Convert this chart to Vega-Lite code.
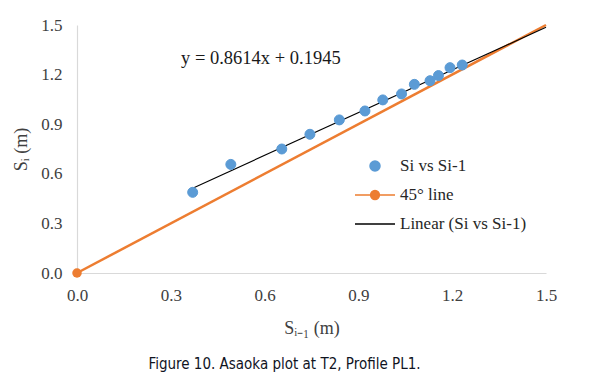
{
  "$schema": "https://vega.github.io/schema/vega-lite/v6.json",
  "width": 469,
  "height": 248,
  "autosize": {"type": "none"},
  "padding": {"left": 77, "top": 25, "right": 43, "bottom": 116},
  "background": "white",
  "config": {
    "view": {"stroke": null},
    "font": "Liberation Serif",
    "axis": {
      "grid": false,
      "ticks": false,
      "domainColor": "#D9D9D9",
      "domainWidth": 1.2,
      "labelFont": "Liberation Serif",
      "labelFontSize": 17,
      "labelColor": "#404040",
      "titleFont": "Liberation Serif",
      "titleFontSize": 18,
      "titleFontWeight": "normal",
      "titleColor": "#404040"
    },
    "legend": {
      "orient": "none",
      "legendX": 277,
      "legendY": 120,
      "labelFont": "Liberation Serif",
      "labelFontSize": 17,
      "labelColor": "#262626",
      "labelOffset": 4,
      "symbolSize": 1600,
      "symbolStrokeWidth": 1.5,
      "rowPadding": -8,
      "padding": 0
    }
  },
  "datasets": {
    "pts": [
      {"x": 0.370, "y": 0.488, "series": "Si vs Si-1"},
      {"x": 0.492, "y": 0.657, "series": "Si vs Si-1"},
      {"x": 0.655, "y": 0.750, "series": "Si vs Si-1"},
      {"x": 0.745, "y": 0.839, "series": "Si vs Si-1"},
      {"x": 0.839, "y": 0.926, "series": "Si vs Si-1"},
      {"x": 0.921, "y": 0.980, "series": "Si vs Si-1"},
      {"x": 0.978, "y": 1.047, "series": "Si vs Si-1"},
      {"x": 1.038, "y": 1.083, "series": "Si vs Si-1"},
      {"x": 1.079, "y": 1.141, "series": "Si vs Si-1"},
      {"x": 1.129, "y": 1.163, "series": "Si vs Si-1"},
      {"x": 1.156, "y": 1.194, "series": "Si vs Si-1"},
      {"x": 1.193, "y": 1.242, "series": "Si vs Si-1"},
      {"x": 1.232, "y": 1.258, "series": "Si vs Si-1"}
    ],
    "diag": [
      {"x": 0, "y": 0, "series": "45° line"},
      {"x": 1.5, "y": 1.5, "series": "45° line"}
    ],
    "trend": [
      {"x": 0.37, "y": 0.5132, "series": "Linear (Si vs Si-1)"},
      {"x": 1.5, "y": 1.4866, "series": "Linear (Si vs Si-1)"}
    ],
    "origin": [
      {"x": 0, "y": 0}
    ],
    "eq": [
      {"x": 0.588, "y": 1.30, "label": "y = 0.8614x + 0.1945"}
    ]
  },
  "title": {
    "text": "Figure 10. Asaoka plot at T2, Profile PL1.",
    "orient": "bottom",
    "anchor": "middle",
    "frame": "group",
    "dx": -27,
    "offset": 20,
    "font": "DejaVu Sans Condensed, Liberation Sans Narrow, Liberation Sans",
    "fontSize": 15,
    "fontWeight": "normal",
    "color": "#10141f"
  },
  "layer": [
    {
      "data": {"name": "diag"},
      "mark": {"type": "line", "strokeWidth": 2.5, "clip": false},
      "encoding": {
        "x": {
          "field": "x", "type": "quantitative",
          "scale": {"domain": [0, 1.5], "nice": false, "zero": true},
          "axis": {"values": [0, 0.3, 0.6, 0.9, 1.2, 1.5], "format": ".1f", "labelFlush": false, "labelPadding": 14, "title": "Sᵢ₋₁ (m)", "titlePadding": 16}
        },
        "y": {
          "field": "y", "type": "quantitative",
          "scale": {"domain": [0, 1.5], "nice": false},
          "axis": {"values": [0, 0.3, 0.6, 0.9, 1.2, 1.5], "format": ".1f", "labelFlush": false, "labelPadding": 15, "title": "Sᵢ (m)", "titlePadding": 10}
        },
        "stroke": {
          "field": "series", "type": "nominal",
          "scale": {"domain": ["Si vs Si-1", "45° line", "Linear (Si vs Si-1)"], "range": ["#5B9BD5", "#ED7D31", "#000000"]},
          "legend": {"title": null, "encode": {"symbols": {"update": {"fill": {"scale": "fill", "field": "value"}, "stroke": {"scale": "stroke", "field": "value"}, "strokeWidth": {"value": 1.5}, "opacity": {"value": 1}}}}}
        }
      }
    },
    {
      "data": {"name": "trend"},
      "mark": {"type": "line", "strokeWidth": 1.1},
      "encoding": {
        "x": {"field": "x", "type": "quantitative"},
        "y": {"field": "y", "type": "quantitative"},
        "stroke": {"field": "series", "type": "nominal"}
      }
    },
    {
      "data": {"name": "pts"},
      "mark": {"type": "point", "filled": true, "size": 1600, "strokeWidth": 1, "opacity": 1},
      "encoding": {
        "x": {"field": "x", "type": "quantitative"},
        "y": {"field": "y", "type": "quantitative"},
        "fill": {
          "field": "series", "type": "nominal",
          "scale": {"domain": ["Si vs Si-1", "45° line", "Linear (Si vs Si-1)"], "range": ["#5B9BD5", "#ED7D31", "#000000"]},
          "legend": {"title": null}
        },
        "stroke": {"field": "series", "type": "nominal"},
        "shape": {
          "field": "series", "type": "nominal",
          "scale": {"domain": ["Si vs Si-1", "45° line", "Linear (Si vs Si-1)"], "range": ["M-0.25,0A0.25,0.25 0 1,0 0.25,0A0.25,0.25 0 1,0 -0.25,0Z", "M-1,0H1M-0.22,0A0.22,0.22 0 1,0 0.22,0A0.22,0.22 0 1,0 -0.22,0Z", "M-1,0H1"]},
          "legend": {"title": null}
        }
      }
    },
    {
      "data": {"name": "origin"},
      "mark": {"type": "point", "filled": true, "shape": "circle", "size": 90, "color": "#ED7D31", "opacity": 1, "clip": false},
      "encoding": {
        "x": {"field": "x", "type": "quantitative"},
        "y": {"field": "y", "type": "quantitative"}
      }
    },
    {
      "data": {"name": "eq"},
      "mark": {"type": "text", "font": "Liberation Serif", "fontSize": 18.5, "color": "#1a1a1a"},
      "encoding": {
        "x": {"field": "x", "type": "quantitative"},
        "y": {"field": "y", "type": "quantitative"},
        "text": {"field": "label"}
      }
    }
  ]
}
